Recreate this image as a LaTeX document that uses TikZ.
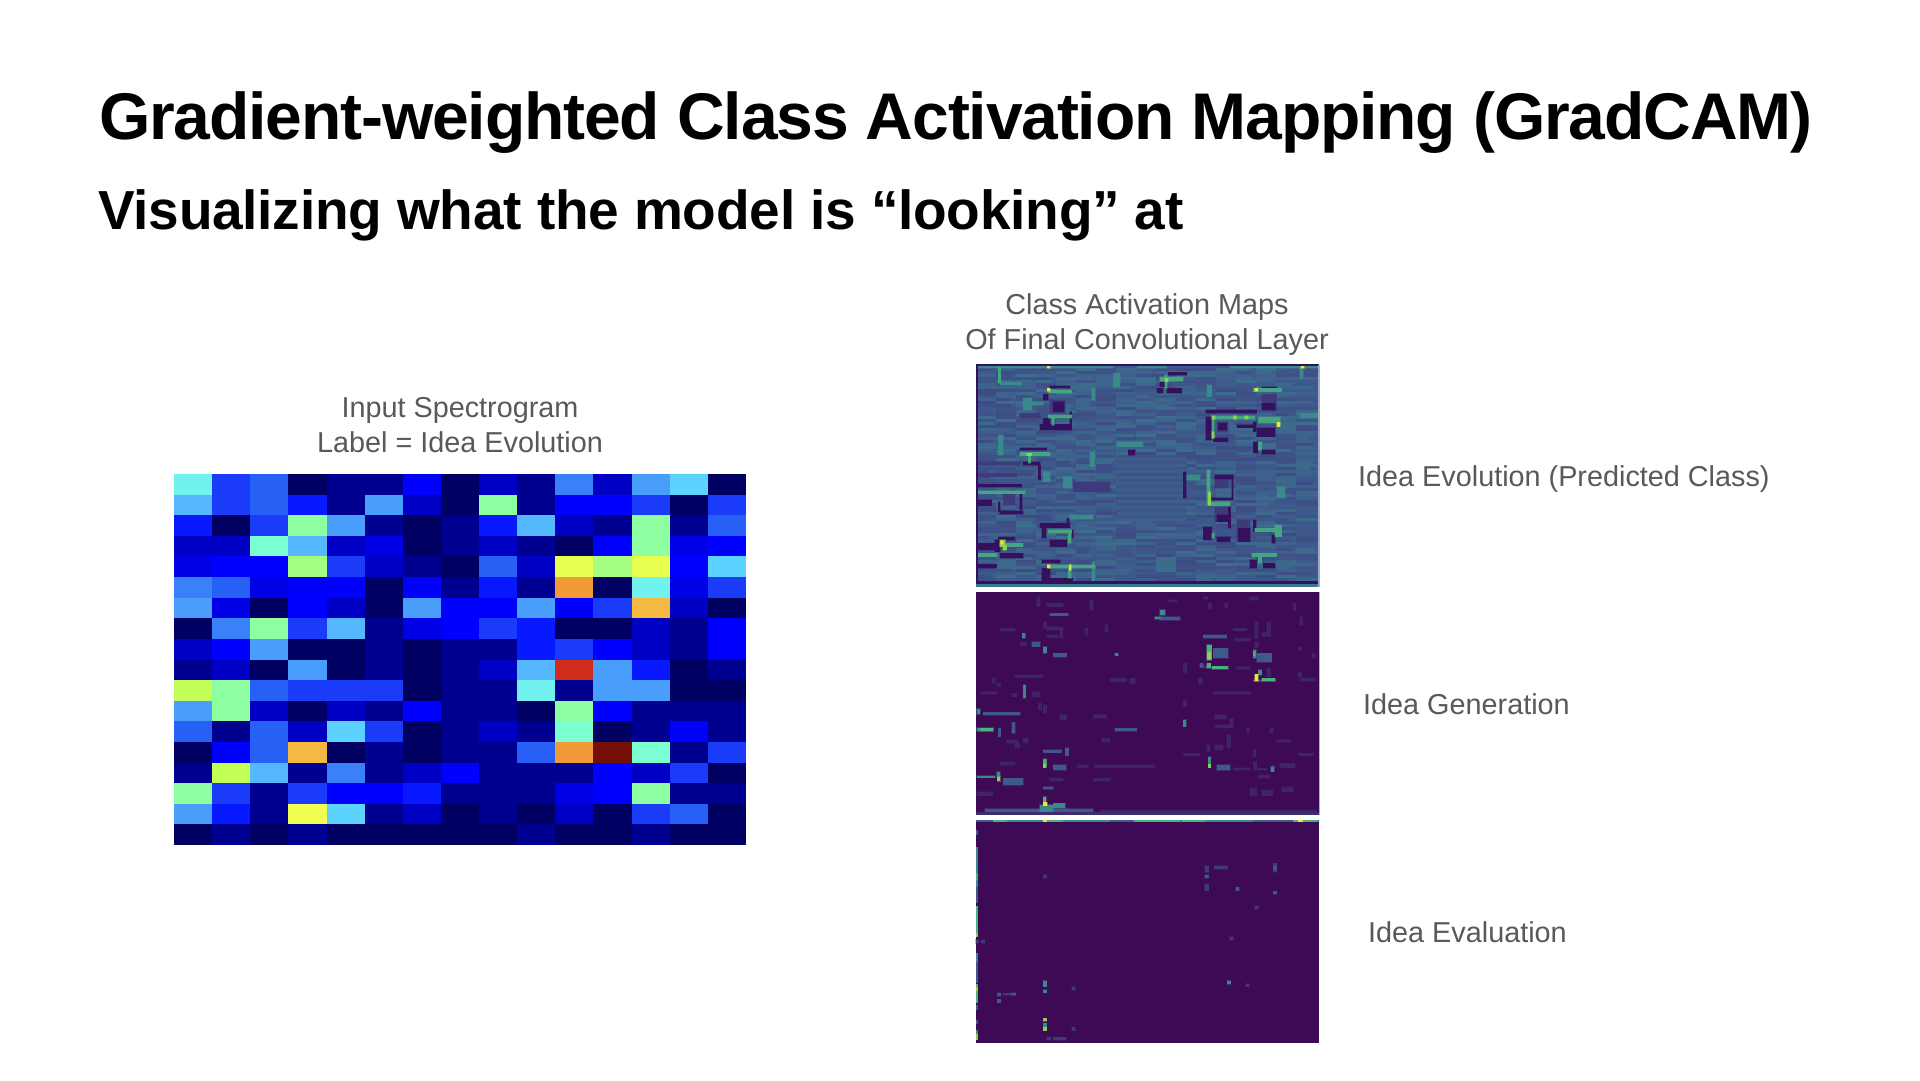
\documentclass[tikz,border=0pt]{standalone}
\usepackage{fontspec}
\setmainfont{Liberation Sans}
\newfontfamily\ttlfont[LetterSpace=-1.75]{Liberation Sans Bold}
\newfontfamily\sttlfont[LetterSpace=-0.4]{Liberation Sans Bold}
\definecolor{hma}{HTML}{000062}\definecolor{hmb}{HTML}{000090}\definecolor{hmc}{HTML}{0000C4}
\definecolor{hmd}{HTML}{0000E6}\definecolor{hme}{HTML}{0000FF}\definecolor{hmf}{HTML}{0818FF}
\definecolor{hmg}{HTML}{1A3CF8}\definecolor{hmh}{HTML}{2660F5}\definecolor{hmi}{HTML}{3A80F8}
\definecolor{hmj}{HTML}{4A9EFB}\definecolor{hmk}{HTML}{55B8FF}\definecolor{hml}{HTML}{5CD2FF}
\definecolor{hmm}{HTML}{72F2EE}\definecolor{hmn}{HTML}{7CFFD0}\definecolor{hmo}{HTML}{8DFFA0}
\definecolor{hmp}{HTML}{A4FF80}\definecolor{hmq}{HTML}{C4FF58}\definecolor{hmr}{HTML}{E8FF50}
\definecolor{hms}{HTML}{F0FF50}\definecolor{hmt}{HTML}{F5B840}\definecolor{hmu}{HTML}{F09A38}
\definecolor{hmv}{HTML}{D02C1C}\definecolor{hmw}{HTML}{741008}
\definecolor{vbg}{HTML}{3F0A55}\definecolor{vdk}{HTML}{35105F}\definecolor{vmd}{HTML}{3F3A7C}
\definecolor{vbl}{HTML}{3E5A8C}\definecolor{vtl}{HTML}{3A8A8C}\definecolor{vgr}{HTML}{48B47C}
\definecolor{vlg}{HTML}{8CD050}\definecolor{vyl}{HTML}{F0E62C}\definecolor{txtgrey}{HTML}{595959}
\tikzset{
  lbl/.style={text=txtgrey,font=\fontsize{28.8}{35}\selectfont,inner sep=0pt},
  lblc/.style={lbl,align=center,anchor=base},
  lbll/.style={lbl,anchor=base west},
  ttl/.style={anchor=base west,inner sep=0pt,text=black,font=\ttlfont\fontsize{66}{70}\selectfont},
  sttl/.style={anchor=base west,inner sep=0pt,text=black,font=\sttlfont\fontsize{55}{60}\selectfont},
  crop/.style={x=0.33333pt,y=-0.33333pt}
}
\newcommand{\hmarks}[2]{\foreach \xa/\ya/\xb/\yb in {#2}{\fill[#1,draw=#1,draw opacity=.35,line width=1.2pt] (\xa,\ya) rectangle (\xb,\yb);}}
\begin{document}
\begin{tikzpicture}[x=1pt,y=-1pt]
\useasboundingbox (0,0) rectangle (1920,1080);
\fill[white] (0,0) rectangle (1920,1080);
\node[ttl] (title) at (99,139) {Gradient-weighted Class Activation Mapping (GradCAM)};
\node[sttl] (subtitle) at (98,229) {Visualizing what the model is “looking” at};
\node[lblc] (inputlabel) at (460,452) {Input Spectrogram\\Label = Idea Evolution};
\node[lblc] (camlabel) at (1147,349) {Class Activation Maps\\Of Final Convolutional Layer};
\node[lbll] (c1) at (1358,486) {Idea Evolution (Predicted Class)};
\node[lbll] (c2) at (1363,714) {Idea Generation};
\node[lbll] (c3) at (1368,942) {Idea Evaluation};
% spectrogram
\foreach \row [count=\j from 0] in {
 {m,g,h,a,b,b,e,a,c,b,i,c,j,l,a},
 {k,g,h,f,b,j,c,a,o,b,e,e,g,a,g},
 {f,a,g,o,j,b,a,b,f,k,c,b,o,b,h},
 {c,c,n,k,c,d,a,b,c,b,a,e,o,d,e},
 {d,e,e,p,g,c,b,a,h,c,r,p,r,e,l},
 {i,h,d,e,e,a,e,b,f,b,u,a,m,d,g},
 {j,d,a,e,c,a,j,e,e,j,e,g,t,c,a},
 {a,i,o,g,k,b,d,e,g,f,a,a,c,b,e},
 {c,e,j,a,a,b,a,b,b,f,g,e,c,b,e},
 {b,c,a,j,a,b,a,b,c,k,v,j,f,a,b},
 {q,o,h,g,g,g,a,b,b,m,b,j,j,a,a},
 {j,o,c,a,c,b,e,b,b,a,o,e,b,b,b},
 {h,b,h,c,l,g,a,b,c,b,n,a,b,e,b},
 {a,e,h,t,a,b,a,b,b,h,u,w,n,b,g},
 {b,q,k,b,i,b,c,e,b,b,b,e,c,g,a},
 {o,g,b,g,e,e,f,b,b,b,d,e,o,b,b},
 {j,f,b,s,l,b,c,a,b,a,c,a,g,h,a},
 {a,b,a,b,a,a,a,a,a,b,a,a,b,a,a}}
 {\foreach \c [count=\i from 0] in \row
   {\fill[hm\c] ({174+38.13*\i},{474+20.61*\j}) rectangle ++(38.4,20.9);}}
% ---------- panel 1 ----------
\begin{scope}[crop,shift={(2880,1065)}]
\fill[vbl] (47,28) rectangle (1078,695);
\pgfmathsetseed{11}
\foreach \ya in {40,49,...,680}{
  \foreach \xa in {48,108,...,1020}{
    \pgfmathsetmacro{\mixa}{int(random(0,100))}
    \pgfmathsetmacro{\mixb}{int(random(0,45))}
    \pgfmathsetmacro{\mixc}{int(random(10,40))}
    \pgfmathsetmacro{\wd}{int(random(40,110))}
    \ifnum\mixa<55
      \fill[vmd!\mixb!vbl] (\xa,\ya) rectangle ({min(\xa+\wd,1078)},\ya+9);
    \else
      \fill[vtl!\mixc!vbl] (\xa,\ya) rectangle ({min(\xa+\wd,1078)},\ya+9);
    \fi}}
\foreach \ya in {300,318,...,480}{\fill[vmd!22!vbl] (470,\ya) rectangle (680,\ya+9);\fill[vtl!8!vbl] (470,\ya+9) rectangle (680,\ya+18);}
\hmarks{vmd}{270/135/315/175,180/175/240/190,130/418/165/450,770/200/805/232,905/118/950/165,765/375/805/400,765/455/810/500,830/495/870/560,340/380/450/410,50/320/180/330,50/355/170/365}
\hmarks{vdk}{270/92/330/100,250/118/265/135,280/140/312/170,240/208/335/225,250/190/270/210,330/170/335/220,625/52/680/60,590/100/610/115,620/100/665/115,600/82/615/95,905/95/950/100,905/145/945/165,738/165/890/175,738/185/755/255,775/205/800/225,760/248/805/260,830/210/880/218,880/200/888/230,890/218/945/245,880/260/895/295,905/285/945/298,180/278/260/285,190/320/240/330,235/330/242/375,50/388/185/397,50/435/95/452,180/418/187/465,115/440/120/470,120/468/190/478,240/505/330/518,320/490/328/518,245/510/258/550,270/555/320/575,335/525/340/550,115/545/165/555,105/555/120/590,120/595/190/610,50/565/105/585,245/615/300/625,245/640/270/680,245/670/340/682,50/628/110/640,765/360/820/372,815/360/820/430,755/428/820/435,770/480/805/500,805/455/812/520,730/515/755/555,835/520/870/560,880/495/888/530,935/540/945/565,870/615/890/640,910/625/945/640,670/350/678/430,505/285/525/300,770/545/810/560}
\hmarks{vtl}{50/33/460/40,530/33/620/40,810/33/1075/40,190/130/215/165,460/55/480/95,740/90/755/125,390/290/405/335,470/260/550/275,120/80/185/90,205/140/250/150,950/395/975/430,1020/40/1030/70,395/620/405/680,330/480/400/492,680/360/720/375,250/350/270/380,310/365/335/400,1020/175/1075/190,115/240/130/300,395/100/405/135}
\hmarks{vgr!65!vtl}{115/35/122/85,265/105/335/115,265/180/335/190,275/190/282/210,180/292/270/302,205/302/212/325,50/408/195/416,265/525/335/535,325/530/333/565,120/565/190/575,50/595/110/605,265/630/405/640,325/630/333/670,600/65/670/78,615/60/622/100,880/100/965/110,755/183/885/192,755/192/762/250,895/185/960/205,740/345/750/450,745/440/810/452,885/520/965/530,945/510/965/545,875/595/950/605,895/600/905/625,895/260/905/285,755/535/762/550}
\hmarks{vlg}{755/230/762/250,745/410/752/450,120/555/135/575,128/570/140/585,200/295/215/302,615/70/625/80,755/183/765/192,820/183/830/192,855/183/865/192}
\hmarks{vyl}{262/34/270/40,1022/34/1032/40,262/100/270/108,885/100/893/108,950/202/960/215,123/558/130/568,262/630/270/640,328/630/333/645}
\fill[vdk] (47,28) rectangle (1078,33);
\fill[vdk] (47,28) rectangle (55,686);
\fill[vdk] (47,678) rectangle (1078,686);
\fill[vtl!70!vbl] (47,686) rectangle (1078,695);
\fill[vbl!50!white] (1075,30) rectangle (1079,695);
\end{scope}
% ---------- panel 2 ----------
\begin{scope}[crop,shift={(2880,1755)}]
\fill[vbg] (47,22) rectangle (1078,690);
\hmarks{vmd!55!vbg}{230/35/240/65,260/55/310/65,390/45/400/75,625/45/650/52,270/85/325/92,250/110/260/130,260/125/310/135,300/130/308/160,260/150/295/158,375/130/385/150,435/120/445/140,120/130/165/138,165/270/250/278,450/280/500/290,510/280/525/296,715/280/728/298,180/170/200/182,60/320/110/328,155/325/170/335,215/320/240/335,235/355/245/375,250/360/260/385,300/390/320/405,400/390/440/400,760/320/870/328,765/390/800/402,765/420/820/428,810/400/820/425,670/345/680/365,670/235/680/265,110/295/122/305,95/280/105/295,190/460/205/475,140/465/175/475,165/475/180/490,425/460/450/472,950/465/990/472,670/505/720/512,740/480/750/500,765/480/790/495,800/450/812/490,1015/505/1060/512,880/495/888/515,120/530/165/540,350/540/385/548,405/540/585/548,270/580/310/588,400/580/450/588,960/535/1005/548,895/570/930/580,965/605/1000/620,50/620/100/632,870/610/890/632,905/615/940/632,1020/280/1065/288,1015/260/1025/275,1015/185/1025/195,1055/205/1065/220,1000/55/1008/75,730/35/745/42,795/55/803/70,745/55/755/72,820/130/860/137,825/160/870/168,885/110/895/160,920/110/932/155,905/140/920/155,885/170/895/188,730/240/745/250,830/245/870/252,920/250/932/275,1020/95/1028/120,420/675/1070/680,870/35/895/45,935/540/942/560,820/548/870/556,880/530/890/552,880/550/920/556,860/430/868/445,930/430/940/445}
\hmarks{vbl}{270/85/325/92,215/170/240/185,280/205/320/216,600/95/660/105,730/150/800/160,760/190/805/220,890/205/935/232,130/580/190/600,770/540/810/556,280/540/318/556,250/495/305/503,316/488/326/512,70/382/180/390,115/430/122/455,155/412/165/445,465/430/530/438,720/235/730/248,880/285/945/288,250/605/280/613,75/672/400/680}
\hmarks{vtl}{187/145/195/160,250/185/260/205,600/75/615/90,585/95/600/102,190/300/197/340,50/372/60/388,50/428/100/438,670/405/678/425,745/515/752/540,250/522/260/540,280/655/315/670,240/660/280/680,50/572/105/578,110/560/120/575,880/195/888/220,895/255/905/270,932/545/942/560,465/205/475/212}
\hmarks{vgr}{740/180/755/225,740/235/752/250,755/244/805/252,905/280/945/288,60/430/100/438,250/525/258/545,250/635/258/655,880/200/886/212}
\hmarks{vlg}{742/200/752/222,745/538/752/548,250/538/258/548,112/575/120/588}
\hmarks{vyl}{885/268/895/288,250/652/262/662}
\fill[vmd!70!vbg] (47,680) rectangle (1078,690);
\fill[vbl!45!white] (1076,22) rectangle (1079,690);
\end{scope}
% ---------- panel 3 ----------
\begin{scope}[crop,shift={(2880,2430)}]
\fill[vbg] (47,30) rectangle (1078,698);
\fill[vtl] (47,30) rectangle (1078,35);
\fill[vbl] (47,30) rectangle (100,35);
\fill[vbl] (450,30) rectangle (520,35);
\fill[vbl] (880,30) rectangle (1000,35);
\fill[vgr] (100,30) rectangle (140,35);
\fill[vgr] (250,30) rectangle (310,35);
\fill[vgr] (525,30) rectangle (660,35);
\fill[vgr] (665,30) rectangle (735,35);
\fill[vgr] (1000,30) rectangle (1072,35);
\fill[vyl] (250,30) rectangle (260,35);
\fill[vyl] (1015,30) rectangle (1028,35);
\fill[vbl] (47,60) rectangle (54,75);
\fill[vbl] (47,230) rectangle (54,280);
\fill[vbl] (47,430) rectangle (54,520);
\fill[vbl] (47,630) rectangle (54,642);
\fill[vbl] (47,585) rectangle (54,600);
\fill[vtl] (47,110) rectangle (54,230);
\fill[vtl] (47,430) rectangle (54,455);
\fill[vtl] (47,660) rectangle (54,675);
\fill[vgr] (47,190) rectangle (54,210);
\fill[vgr] (47,288) rectangle (54,370);
\fill[vgr] (47,522) rectangle (54,580);
\fill[vlg] (47,370) rectangle (54,382);
\fill[vlg] (47,530) rectangle (54,542);
\fill[vlg] (47,672) rectangle (54,690);
\hmarks{vmd}{47/390/56/400,64/390/74/400,735/168/746/186,763/168/803/177,250/195/260/205,735/222/746/242,885/288/895/298,810/380/820/390,940/160/950/186,335/530/345/540,335/652/345/662,260/682/272/690,280/682/318/690,128/550/165/556,858/522/868/530}
\hmarks{vbl}{735/195/746/205,828/232/838/242,940/244/950/252,112/548/122/558,112/568/122/578,155/548/167/556,940/168/950/180}
\hmarks{vtl}{250/513/260/530,250/540/260/548,802/513/812/522,250/640/260/650}
\hmarks{vlg}{250/625/260/634,250/652/260/662}
\end{scope}
\end{tikzpicture}
\end{document}
